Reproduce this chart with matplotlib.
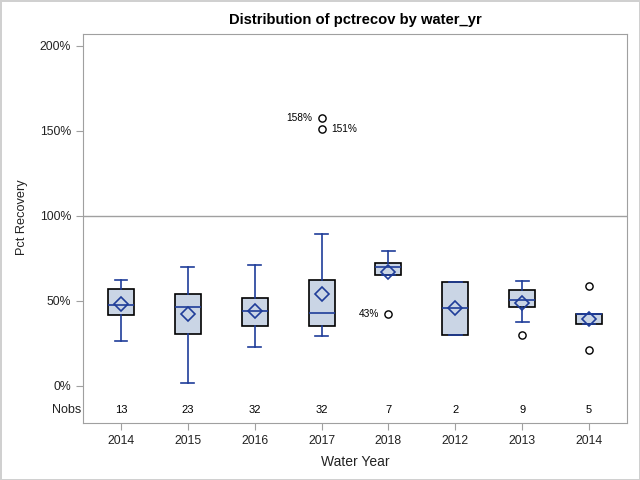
# box plot of pct recovery by water year

import matplotlib
matplotlib.use("Agg")
import matplotlib.pyplot as plt

plt.rcParams["font.family"] = ["Liberation Sans", "DejaVu Sans"]

# category labels and counts
years = ["2014", "2015", "2016", "2017", "2018", "2012", "2013", "2014"]
nobs = [13, 23, 32, 32, 7, 2, 9, 5]

# box statistics (percent)
whislo = [26.5, 1.6, 22.7, 29.2, 65.3, 29.8, 37.6, 36.3]
q1 = [41.6, 30.4, 35.1, 35.1, 65.3, 29.8, 46.3, 36.3]
med = [47.5, 46.3, 43.9, 42.9, 69.8, 45.7, 50.4, 42.2]
q3 = [56.9, 53.9, 51.6, 62.2, 72.2, 61.0, 56.3, 42.2]
whishi = [62.2, 69.8, 71.0, 89.4, 79.6, 61.0, 61.6, 42.2]
means = [48.1, 42.2, 44.1, 54.1, 67.1, 45.7, 49.0, 39.6]
outliers = [[], [], [], [157.6, 151.2], [42.4], [], [29.8], [58.6, 21.0]]

# labelled outliers: (category index, value, text, side)
outlier_labels = [(3, 157.6, "158%", "left"), (3, 151.2, "151%", "right"),
                  (4, 42.4, "43%", "left")]

line_col = "#1f3d99"
fill_col = "#cad5e5"
grey = "#a0a0a0"
txt_col = "#222222"

fig = plt.figure(figsize=(6.4, 4.8), dpi=100)
fig.patch.set_edgecolor("#d0d0d0")
fig.patch.set_linewidth(2)
ax = fig.add_axes([83 / 640, 1 - 423 / 480, 544 / 640, 389 / 480])

stats = []
for i in range(len(years)):
    stats.append(dict(whislo=whislo[i], q1=q1[i], med=med[i], q3=q3[i],
                      whishi=whishi[i], mean=means[i], fliers=outliers[i]))

ax.bxp(stats, positions=range(len(years)), widths=0.39, patch_artist=True,
       showmeans=True, showfliers=True,
       boxprops=dict(facecolor=fill_col, edgecolor="black", linewidth=1.2),
       medianprops=dict(color=line_col, linewidth=1.2),
       whiskerprops=dict(color=line_col, linewidth=1.2),
       capprops=dict(color=line_col, linewidth=1.2),
       capwidths=0.19,
       meanprops=dict(marker="D", markerfacecolor="none", markeredgecolor=line_col,
                      markersize=7.5, markeredgewidth=1.2),
       flierprops=dict(marker="o", markerfacecolor="none", markeredgecolor="black",
                       markersize=5.2, markeredgewidth=1.0))

for i, v, txt, side in outlier_labels:
    if side == "left":
        ax.annotate(txt, (i, v), xytext=(-7, 0), textcoords="offset points",
                    ha="right", va="center", fontsize=7.3)
    else:
        ax.annotate(txt, (i, v), xytext=(7, 0), textcoords="offset points",
                    ha="left", va="center", fontsize=7.3)

# reference line at 100%
ax.axhline(100, color=grey, linewidth=1, zorder=0)

# Nobs row
for i, n in enumerate(nobs):
    ax.text(i, -14, str(n), ha="center", va="center", fontsize=8)
ax.text(-0.6, -14, "Nobs", ha="right", va="center", fontsize=9, color=txt_col)

ax.set_xlim(-0.568, 7.568)
ax.set_ylim(-21.8, 207)
ax.set_yticks([0, 50, 100, 150, 200])
ax.set_yticklabels(["0%", "50%", "100%", "150%", "200%"])
ax.set_xticks(range(len(years)))
ax.set_xticklabels(years)
ax.tick_params(axis="both", colors=grey, labelcolor=txt_col, labelsize=8.8, length=5)

for s in ax.spines.values():
    s.set_color(grey)

ax.set_ylabel("Pct Recovery", fontsize=9.2, color=txt_col, va="center")
ax.yaxis.set_label_coords(-0.113, 0.53)
ax.set_xlabel("Water Year", fontsize=10, color=txt_col, labelpad=6)
ax.set_title("Distribution of pctrecov by water_yr", fontsize=10.6,
             fontweight="bold", pad=7)

fig.savefig("out.png", dpi=100)
